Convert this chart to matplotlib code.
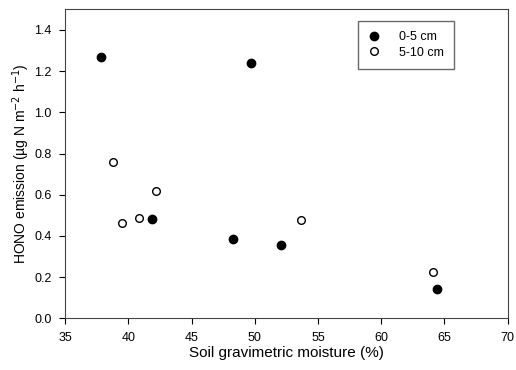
import matplotlib
matplotlib.use("Agg")
from matplotlib import pyplot as plt

plt.rcParams["font.family"] = ["Liberation Sans", "DejaVu Sans"]

# 0-5 cm depth
x_top = [37.84, 49.67, 41.87, 48.3, 52.04, 64.38]
y_top = [1.268, 1.241, 0.481, 0.387, 0.356, 0.141]

# 5-10 cm depth
x_sub = [38.82, 39.53, 40.87, 42.19, 53.67, 64.07]
y_sub = [0.758, 0.461, 0.486, 0.618, 0.476, 0.226]

fig = plt.figure(figsize=(5.16, 3.70), dpi=100)
ax = fig.add_axes([0.126, 0.1397, 0.858, 0.835])

ax.plot(x_top, y_top, linestyle="none", marker="o", markersize=6,
        markerfacecolor="black", markeredgecolor="black", label="0-5 cm")
ax.plot(x_sub, y_sub, linestyle="none", marker="o", markersize=5.5,
        markerfacecolor="white", markeredgecolor="black", markeredgewidth=1,
        label="5-10 cm")

ax.set_xlim(35, 70)
ax.set_ylim(0, 1.5)
ax.set_xticks(range(35, 71, 5))
ax.set_yticks([0.0, 0.2, 0.4, 0.6, 0.8, 1.0, 1.2, 1.4])
ax.set_yticklabels(["0.0", "0.2", "0.4", "0.6", "0.8", "1.0", "1.2", "1.4"])
ax.tick_params(direction="out", length=4, labelsize=9, pad=5.5,
               top=False, right=False)

for s in ax.spines.values():
    s.set_color("#444444")

ax.set_xlabel("Soil gravimetric moisture (%)", fontsize=11, labelpad=2)
ax.set_ylabel("HONO emission (µg N m$^{-2}$ h$^{-1}$)", fontsize=10, labelpad=2)

leg = ax.legend(loc="upper right", bbox_to_anchor=(0.878, 0.962), fontsize=9,
                frameon=True, fancybox=False, handlelength=1.0,
                handletextpad=1.5, borderpad=0.8, labelspacing=0.3,
                borderaxespad=0)
leg.get_frame().set_edgecolor("#444444")
leg.get_frame().set_linewidth(1.0)

fig.savefig("out.png", dpi=100)
